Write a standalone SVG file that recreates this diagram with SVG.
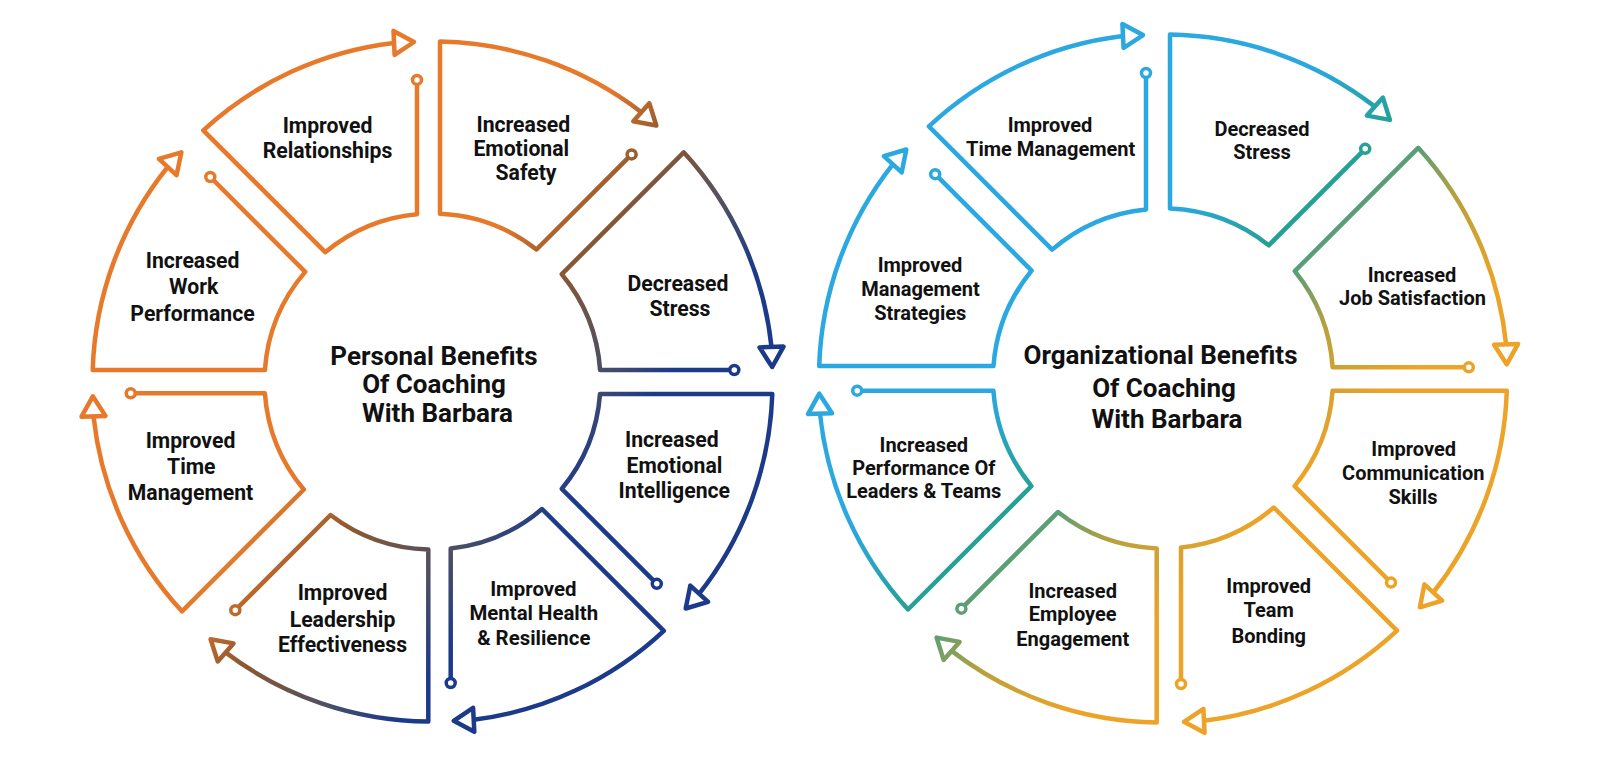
<svg xmlns="http://www.w3.org/2000/svg" width="1600" height="783" viewBox="0 0 1600 783">
<defs>
<linearGradient id="gL" gradientUnits="userSpaceOnUse" x1="397.3" y1="353.3" x2="574.1" y2="494.8">
<stop offset="0" stop-color="#E7792B"/>
<stop offset="0.31" stop-color="#8E592F"/>
<stop offset="0.724" stop-color="#4E4F62"/>
<stop offset="1" stop-color="#1B3A8A"/>
</linearGradient>
<linearGradient id="gR" gradientUnits="userSpaceOnUse" x1="1082.3" y1="297.8" x2="1282.3" y2="497.8">
<stop offset="0" stop-color="#2AA8DF"/>
<stop offset="0.34" stop-color="#25A096"/>
<stop offset="0.48" stop-color="#5E9E74"/>
<stop offset="0.68" stop-color="#B7A13C"/>
<stop offset="1" stop-color="#ECA328"/>
</linearGradient>
<style>
.L{stroke:url(#gL)}
.R{stroke:url(#gR)}
.seg{fill:none;stroke-width:4.5;stroke-linejoin:round;stroke-linecap:round}
.arw{fill:#fff;stroke-width:4.5;stroke-linejoin:round}
.dot{fill:#fff;stroke-width:3.5}
text{font-family:Roboto,"Liberation Sans",Arial,sans-serif;font-weight:700;fill:#111;text-anchor:middle}
.lbL{font-size:21.2px}
.lbM{font-size:20.4px}
.lbR{font-size:20px}
.ttl{font-size:26px}
</style>
</defs>
<rect width="1600" height="783" fill="#fff"/>

<g id="personal-benefits">
<g id="title-personal">
<text class="ttl" x="434" y="365">Personal Benefits</text>
<text class="ttl" x="434" y="393.3">Of Coaching</text>
<text class="ttl" x="437.5" y="421.7">With Barbara</text>
</g>
<g id="p-relationships">
<path class="seg L" d="M417,79.9 L417,214.2 A168,168 0 0 0 325.2,252.2 L203.3,130.3 A340,340 0 0 1 394.0,42.9"/>
<path class="arw L" d="M414.0,42.0 L393.5,30.9 L394.6,54.9 Z"/>
<circle class="dot L" cx="417" cy="79.9" r="4.5"/>
<text class="lbL" x="327.5" y="133.3">Improved</text>
<text class="lbL" x="327.5" y="158.3">Relationships</text>
</g>
<g id="p-emotional-safety">
<path class="seg L" d="M631.6,154.4 L536.5,249.5 A168,168 0 0 0 440,213.7 L440,41.6 A340,340 0 0 1 641.3,112.2"/>
<path class="arw L" d="M656.3,125.5 L649.3,103.2 L633.3,121.2 Z"/>
<circle class="dot L" cx="631.6" cy="154.4" r="4.5"/>
<text class="lbL" x="523.3" y="131.7">Increased</text>
<text class="lbL" x="521.3" y="156">Emotional</text>
<text class="lbL" x="526" y="180">Safety</text>
</g>
<g id="p-decreased-stress">
<path class="seg L" d="M734.3,370 L600.1,370 A168,168 0 0 0 561.8,274.2 L683.7,152.3 A340,340 0 0 1 771.5,347.0"/>
<path class="arw L" d="M772.2,367.0 L783.5,346.6 L759.5,347.4 Z"/>
<circle class="dot L" cx="734.3" cy="370" r="4.5"/>
<text class="lbL" x="678" y="291">Decreased</text>
<text class="lbL" x="680" y="316">Stress</text>
</g>
<g id="p-emotional-intelligence">
<path class="seg L" d="M656.8,583.8 L561.8,488.8 A168,168 0 0 0 600,394 L772.3,394 A340,340 0 0 1 699.2,593.7"/>
<path class="arw L" d="M685.7,608.5 L708.1,601.8 L690.3,585.6 Z"/>
<circle class="dot L" cx="656.8" cy="583.8" r="4.5"/>
<text class="lbL" x="671.8" y="446.7">Increased</text>
<text class="lbL" x="674.5" y="472.7">Emotional</text>
<text class="lbL" x="674.3" y="498.3">Intelligence</text>
</g>
<g id="p-mental-health">
<path class="seg L" d="M450.7,683 L450.7,548.5 A168,168 0 0 0 542,509 L663.8,630.8 A340,340 0 0 1 473.7,719.8"/>
<path class="arw L" d="M453.7,720.8 L474.3,731.8 L473.1,707.8 Z"/>
<circle class="dot L" cx="450.7" cy="683" r="4.5"/>
<text class="lbM" x="533.3" y="596.3">Improved</text>
<text class="lbM" x="533.8" y="620.4">Mental Health</text>
<text class="lbM" x="533.8" y="644.5">&amp; Resilience</text>
</g>
<g id="p-leadership">
<path class="seg L" d="M235.3,610.2 L330.5,515 A168,168 0 0 0 428.3,549.5 L428.3,721.5 A340,340 0 0 1 225.6,652.4"/>
<path class="arw L" d="M210.6,639.2 L217.7,661.4 L233.5,643.4 Z"/>
<circle class="dot L" cx="235.3" cy="610.2" r="4.5"/>
<text class="lbL" x="342.5" y="600">Improved</text>
<text class="lbL" x="342.5" y="626.7">Leadership</text>
<text class="lbL" x="342.5" y="651.7">Effectiveness</text>
</g>
<g id="p-time-management">
<path class="seg L" d="M130.7,393.3 L264.9,393.3 A168,168 0 0 0 303.8,489.5 L182,611.3 A340,340 0 0 1 93.5,416.3"/>
<path class="arw L" d="M92.8,396.3 L81.5,416.7 L105.5,415.9 Z"/>
<circle class="dot L" cx="130.7" cy="393.3" r="4.5"/>
<text class="lbL" x="190.5" y="447.7">Improved</text>
<text class="lbL" x="191.3" y="474.3">Time</text>
<text class="lbL" x="190.5" y="500">Management</text>
</g>
<g id="p-work-performance">
<path class="seg L" d="M210.3,177 L305.2,271.9 A168,168 0 0 0 264.9,370 L92.7,370 A340,340 0 0 1 167.7,167.0"/>
<path class="arw L" d="M181.4,152.3 L158.9,158.8 L176.5,175.2 Z"/>
<circle class="dot L" cx="210.3" cy="177" r="4.5"/>
<text class="lbL" x="192.6" y="268">Increased</text>
<text class="lbL" x="193.6" y="294">Work</text>
<text class="lbL" x="192.5" y="320.5">Performance</text>
</g>
</g>

<g id="organizational-benefits">
<g id="title-organizational">
<text class="ttl" x="1160.5" y="364">Organizational Benefits</text>
<text class="ttl" x="1164" y="396.7">Of Coaching</text>
<text class="ttl" x="1167" y="428.3">With Barbara</text>
</g>
<g id="o-time-management">
<path class="seg R" d="M1146,73.0 L1146,209.4 A170,170 0 0 0 1052.1,249.6 L928.9,126.4 A344,344 0 0 1 1123.0,36.0"/>
<path class="arw R" d="M1143.0,35.1 L1122.4,24.0 L1123.6,48.0 Z"/>
<circle class="dot R" cx="1146" cy="73.0" r="4.5"/>
<text class="lbR" x="1050" y="131.7">Improved</text>
<text class="lbR" x="1050.7" y="155.7">Time Management</text>
</g>
<g id="o-decreased-stress">
<path class="seg R" d="M1365.2,148.8 L1268.7,245.3 A170,170 0 0 0 1170,208.6 L1170,34.6 A344,344 0 0 1 1374.9,106.6"/>
<path class="arw R" d="M1389.9,119.9 L1382.9,97.6 L1366.9,115.6 Z"/>
<circle class="dot R" cx="1365.2" cy="148.8" r="4.5"/>
<text class="lbR" x="1262" y="136">Decreased</text>
<text class="lbR" x="1262" y="159.3">Stress</text>
</g>
<g id="o-job-satisfaction">
<path class="seg R" d="M1468.8,367.3 L1332.6,367.3 A170,170 0 0 0 1294.8,271.2 L1418.2,147.8 A344,344 0 0 1 1506.1,344.3"/>
<path class="arw R" d="M1506.7,364.3 L1518.1,343.9 L1494.1,344.7 Z"/>
<circle class="dot R" cx="1468.8" cy="367.3" r="4.5"/>
<text class="lbR" x="1412" y="281.7">Increased</text>
<text class="lbR" x="1412.5" y="305.3">Job Satisfaction</text>
</g>
<g id="o-communication">
<path class="seg R" d="M1391.0,582.6 L1294.6,486.2 A170,170 0 0 0 1332.6,390.7 L1506.8,390.7 A344,344 0 0 1 1433.3,592.5"/>
<path class="arw R" d="M1419.9,607.3 L1442.2,600.6 L1424.4,584.4 Z"/>
<circle class="dot R" cx="1391.0" cy="582.6" r="4.5"/>
<text class="lbR" x="1413.7" y="456">Improved</text>
<text class="lbR" x="1413.3" y="480">Communication</text>
<text class="lbR" x="1413" y="504">Skills</text>
</g>
<g id="o-team-bonding">
<path class="seg R" d="M1181,684.0 L1181,547.5 A170,170 0 0 0 1273.8,507.5 L1397.0,630.7 A344,344 0 0 1 1204.0,720.8"/>
<path class="arw R" d="M1184.0,721.8 L1204.6,732.8 L1203.4,708.8 Z"/>
<circle class="dot R" cx="1181" cy="684.0" r="4.5"/>
<text class="lbR" x="1268.7" y="592.7">Improved</text>
<text class="lbR" x="1268.7" y="617.3">Team</text>
<text class="lbR" x="1268.8" y="642.7">Bonding</text>
</g>
<g id="o-employee-engagement">
<path class="seg R" d="M961.4,608.7 L1057.9,512.1 A170,170 0 0 0 1156.7,548.4 L1156.7,722.4 A344,344 0 0 1 951.6,650.9"/>
<path class="arw R" d="M936.6,637.6 L943.6,659.9 L959.6,641.9 Z"/>
<circle class="dot R" cx="961.4" cy="608.7" r="4.5"/>
<text class="lbR" x="1072.7" y="597.7">Increased</text>
<text class="lbR" x="1072.7" y="621">Employee</text>
<text class="lbR" x="1072.8" y="646">Engagement</text>
</g>
<g id="o-leader-performance">
<path class="seg R" d="M857.2,390.7 L993.4,390.7 A170,170 0 0 0 1031.4,486.1 L908.0,609.5 A344,344 0 0 1 820.0,413.7"/>
<path class="arw R" d="M819.3,393.7 L808.0,414.1 L832.0,413.3 Z"/>
<circle class="dot R" cx="857.2" cy="390.7" r="4.5"/>
<text class="lbR" x="923.8" y="451.7">Increased</text>
<text class="lbR" x="923.8" y="475">Performance Of</text>
<text class="lbR" x="923.8" y="497.7">Leaders &amp; Teams</text>
</g>
<g id="o-management-strategies">
<path class="seg R" d="M935.2,174.2 L1031.6,270.6 A170,170 0 0 0 993.5,366 L819.2,366 A344,344 0 0 1 892.8,164.3"/>
<path class="arw R" d="M906.3,149.5 L883.9,156.2 L901.7,172.4 Z"/>
<circle class="dot R" cx="935.2" cy="174.2" r="4.5"/>
<text class="lbR" x="920" y="271.7">Improved</text>
<text class="lbR" x="920.5" y="295.7">Management</text>
<text class="lbR" x="920.3" y="320">Strategies</text>
</g>
</g>
</svg>
